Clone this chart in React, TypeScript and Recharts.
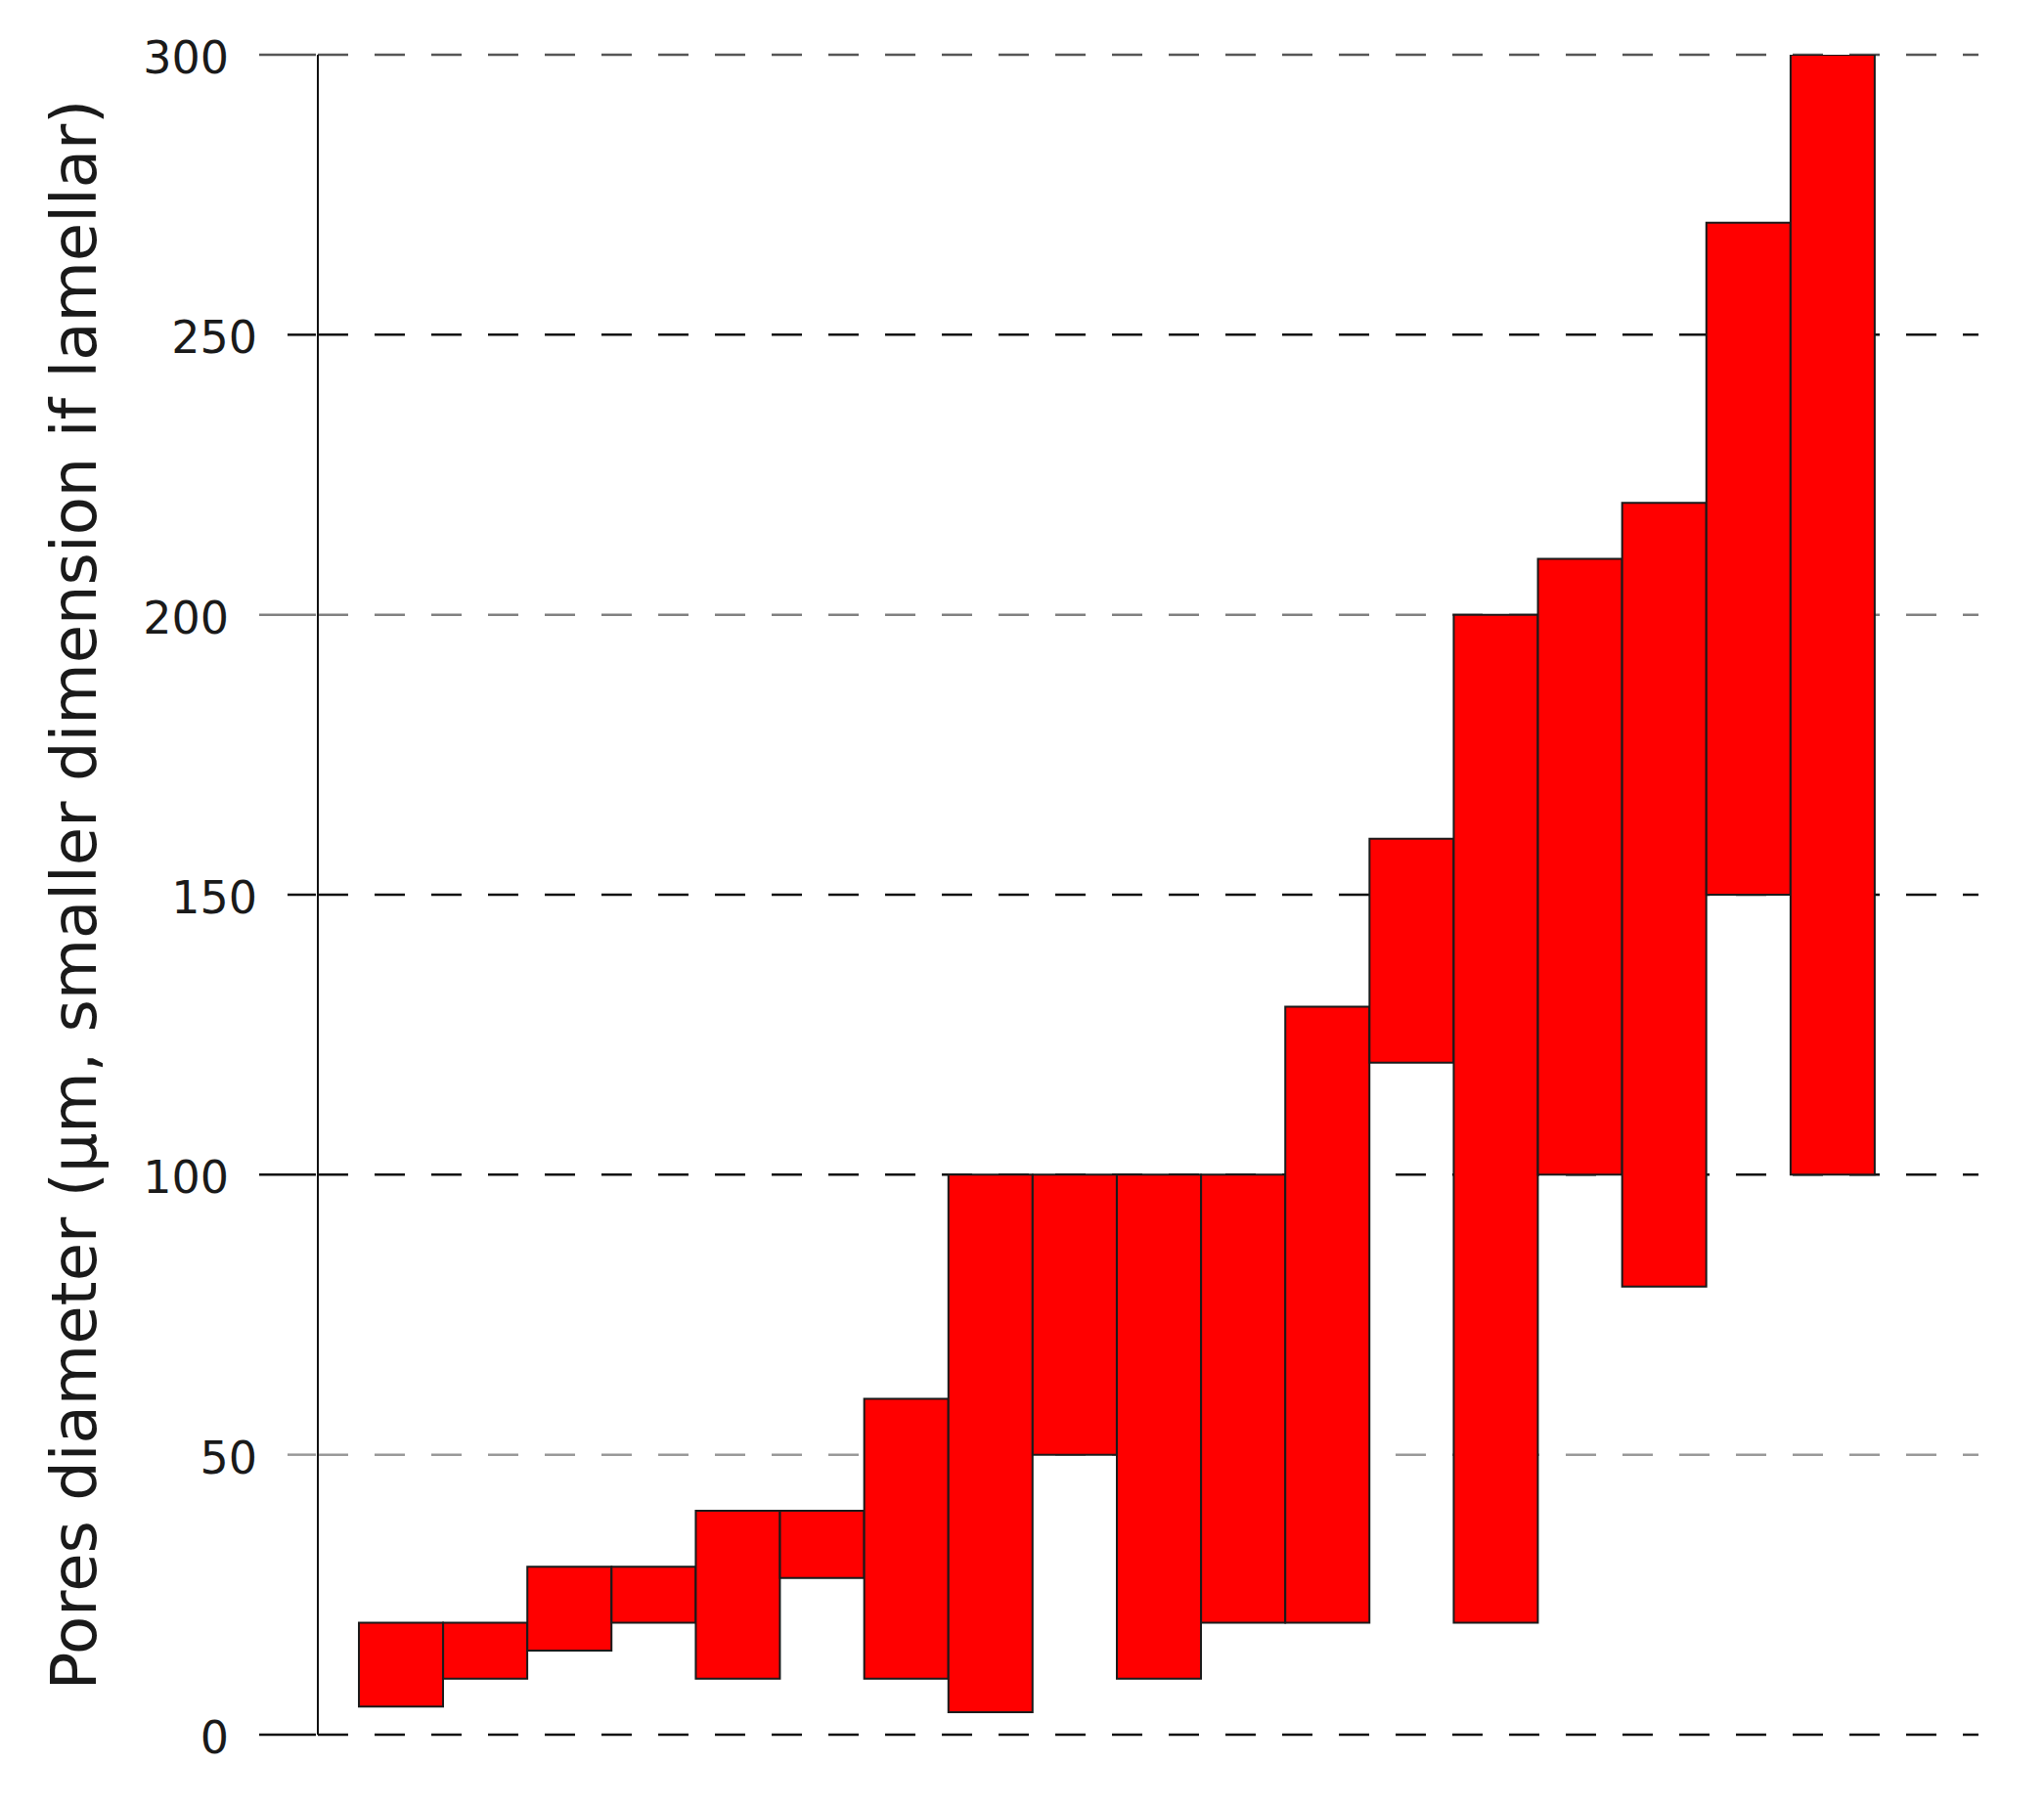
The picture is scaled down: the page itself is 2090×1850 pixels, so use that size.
import { Bar, BarChart, CartesianGrid, XAxis, YAxis, Label } from "recharts";

const samples = ["S1", "S2", "S3", "S4", "S5", "S6", "S7", "S8", "S9", "S10", "S11", "S12", "S13", "S14", "S15", "S16", "S17", "S18"];
const lows = [5, 10, 15, 20, 10, 28, 10, 4, 50, 10, 20, 20, 120, 20, 100, 80, 150, 100];
const highs = [20, 20, 30, 30, 40, 40, 60, 100, 100, 100, 100, 130, 160, 200, 210, 220, 270, 300];
const yTicks = [0, 50, 100, 150, 200, 250, 300];
const yLabel = "Pores diameter (\u03bcm, smaller dimension if lamellar)";

const data = samples.map((name, i) => ({ name, range: [lows[i], highs[i]] }));

const FONT = "'DejaVu Sans', Verdana, sans-serif";
const gridColor = (v: number) =>
  v === 300 ? "#555" : v === 200 ? "#808080" : v === 50 ? "#999" : "#111";
const shortTick = (v: number) => v === 250 || v === 150 || v === 50;

function YTick(props: any) {
  const { x, y, payload } = props;
  const v = payload.value as number;
  const len = shortTick(v) ? 29 : 58;
  return (
    <g>
      <line x1={x - len} x2={x} y1={y} y2={y} stroke={gridColor(v)} strokeWidth={2.5} />
      <text x={x - len - 31} y={y} dy={19} textAnchor="end" fontSize={46} fontFamily={FONT} fill="#1a1a1a">
        {v}
      </text>
    </g>
  );
}

function GridLine(props: any) {
  const { x1, x2, y1, y2, index } = props;
  const v = yTicks[index];
  return (
    <line
      key={`g-${index}`}
      x1={x1}
      x2={x2}
      y1={y1}
      y2={y2}
      stroke={gridColor(v)}
      strokeWidth={2.5}
      strokeDasharray="31 27"
    />
  );
}

export default function App() {
  return (
    <div style={{ position: "absolute", left: 0, top: 0, background: "#fff" }}>
      <BarChart
        width={2090}
        height={1850}
        data={data}
        margin={{ top: 56, right: 67, left: 0, bottom: 76 }}
        barCategoryGap={0}
        barGap={0}
      >
        <CartesianGrid vertical={false} horizontal={GridLine as any} />
        <XAxis dataKey="name" hide padding={{ left: 42, right: 106 }} />
        <YAxis
          width={325}
          domain={[0, 300]}
          ticks={yTicks}
          allowDataOverflow
          tickSize={0}
          tickLine={false}
          axisLine={{ stroke: "#111", strokeWidth: 2 }}
          tick={<YTick />}
        >
          <Label
            content={() => (
              <text
                x={98}
                y={915}
                transform="rotate(-90, 98, 915)"
                textAnchor="middle"
                fontSize={64}
                fontFamily={FONT}
                fill="#1a1a1a"
              >
                {yLabel}
              </text>
            )}
          />
        </YAxis>
        <Bar dataKey="range" fill="#ff0000" stroke="#1a1a1a" strokeWidth={2} isAnimationActive={false} />
      </BarChart>
    </div>
  );
}
